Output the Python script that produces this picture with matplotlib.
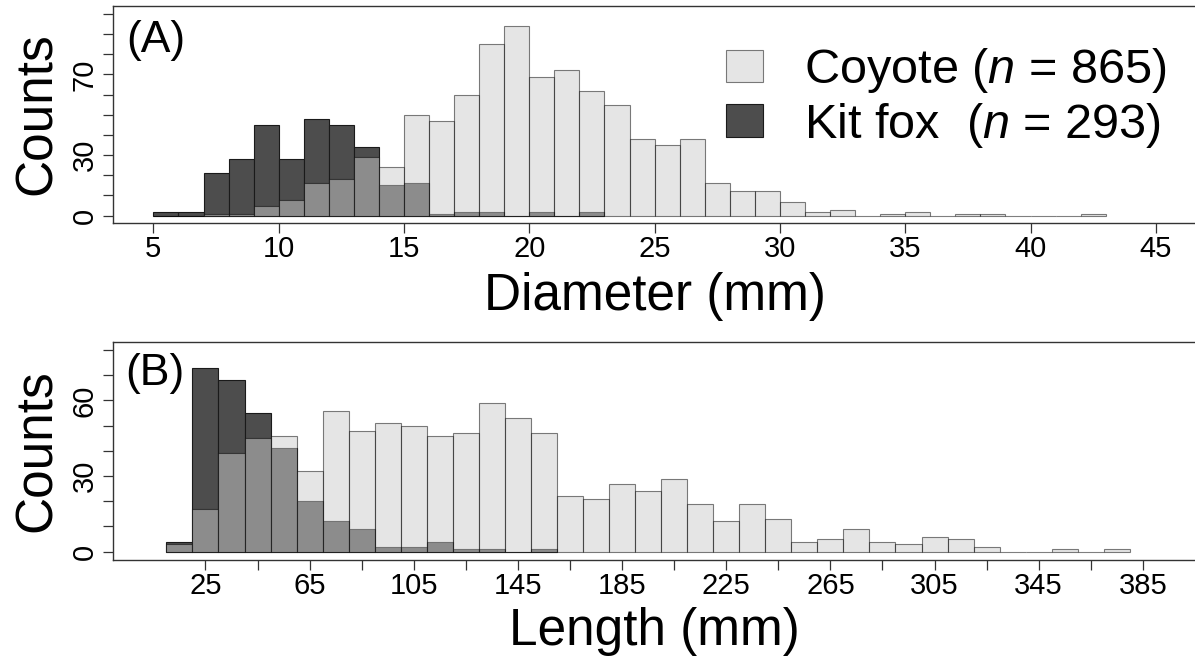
import numpy as np
import matplotlib
matplotlib.use('Agg')
from matplotlib import pyplot as plt
from matplotlib.patches import Patch

plt.rcParams['font.family'] = ['Liberation Sans', 'DejaVu Sans']
plt.rcParams['mathtext.fontset'] = 'custom'
plt.rcParams['mathtext.it'] = 'Liberation Sans:italic'
plt.rcParams['mathtext.rm'] = 'Liberation Sans'

# (A) diameter histogram, 1 mm bins
diam_start = 5
diam_width = 1
kit_diam = [2, 2, 21, 28, 45, 28, 48, 45, 34, 15, 16, 1, 2, 2, 0, 2, 0, 2]
coy_diam = [0, 0, 1, 1, 5, 8, 16, 18, 29, 24, 50, 47, 60, 85, 94, 69, 72, 62, 55,
            38, 35, 38, 16, 12, 12, 7, 2, 3, 0, 1, 2, 0, 1, 1, 0, 0, 0, 1]
diam_ticks = [5, 10, 15, 20, 25, 30, 35, 40, 45]

# (B) length histogram, 10 mm bins
len_start = 10
len_width = 10
kit_len = [4, 73, 68, 55, 41, 20, 12, 9, 2, 2, 4, 1, 1, 0, 1]
coy_len = [3, 17, 39, 45, 46, 32, 56, 48, 51, 50, 46, 47, 59, 53, 47, 22, 21, 27, 24,
           29, 19, 12, 19, 13, 4, 5, 9, 4, 3, 6, 5, 2, 0, 0, 1, 0, 1]
len_ticks = list(range(25, 386, 20))

coy_label = 'Coyote ($\\mathit{n}$ = 865)'
kit_label = 'Kit fox  ($\\mathit{n}$ = 293)'

kit_col = '#4d4d4d'
coy_col = '#cccccc'
edge = '#1a1a1a'

fig = plt.figure(figsize=(11.95, 6.57), dpi=100)
axA = fig.add_axes([0.0948, 0.661, 0.906, 0.3303])
axB = fig.add_axes([0.0948, 0.1476, 0.906, 0.3323])


def draw_hist(ax, start, width, kit, coy):
    kx = start + width * np.arange(len(kit))
    cx = start + width * np.arange(len(coy))
    ax.bar(kx, kit, width=width, align='edge', color=kit_col, edgecolor=edge, lw=0.8)
    ax.bar(cx, coy, width=width, align='edge', color=coy_col, alpha=0.5,
           edgecolor='black', lw=0.8)


draw_hist(axA, diam_start, diam_width, kit_diam, coy_diam)
draw_hist(axB, len_start, len_width, kit_len, coy_len)

axA.set_xlim(3.4, 46.6)
axA.set_ylim(-3.5, 104.1)
axB.set_xlim(-10.4, 405.4)
axB.set_ylim(-3.3, 83.3)

axA.set_xticks(diam_ticks)
axA.set_xticklabels([str(t) for t in diam_ticks])
axB.set_xticks(len_ticks)
axB.set_xticklabels([str(t) if (t - 25) % 40 == 0 else '' for t in len_ticks])

axA.set_yticks(range(0, 101, 10))
axA.set_yticklabels(['0', '', '', '30', '', '', '', '70', '', '', ''])
axB.set_yticks(range(0, 81, 10))
axB.set_yticklabels(['0', '', '', '30', '', '', '60', '', ''])

for ax in (axA, axB):
    for s in ax.spines.values():
        s.set_color('#333333')
        s.set_linewidth(1.0)
    ax.tick_params(axis='both', length=7.2, width=0.9, color='#333333', labelsize=21)
    ax.tick_params(axis='x', pad=1.5)
    ax.tick_params(axis='y', pad=3.5, labelrotation=90)
    for lab in ax.get_yticklabels():
        lab.set_va('center')

fig.text(0.548, 1 - 310 / 657, 'Diameter (mm)', ha='center', va='baseline', fontsize=37)
fig.text(0.548, 1 - 645 / 657, 'Length (mm)', ha='center', va='baseline', fontsize=37)
fig.text(0.031, 1 - 114 / 657, 'Counts', rotation=90, ha='center', va='center', fontsize=37)
fig.text(0.031, 1 - 451 / 657, 'Counts', rotation=90, ha='center', va='center', fontsize=37)

axA.text(0.0124, 0.934, '(A)', transform=axA.transAxes, ha='left', va='top', fontsize=32)
axB.text(0.0108, 0.947, '(B)', transform=axB.transAxes, ha='left', va='top', fontsize=32)

handles = [Patch(facecolor=coy_col, alpha=0.5, edgecolor='black', lw=0.8),
           Patch(facecolor=kit_col, edgecolor=edge, lw=0.8)]
axA.legend(handles, [coy_label, kit_label], loc='upper left', bbox_to_anchor=(0.566, 0.815),
           frameon=False, fontsize=35, handlelength=0.75, handleheight=0.65,
           handletextpad=0.85, labelspacing=0.12, borderaxespad=0, borderpad=0)

fig.savefig('out.png', dpi=100)
